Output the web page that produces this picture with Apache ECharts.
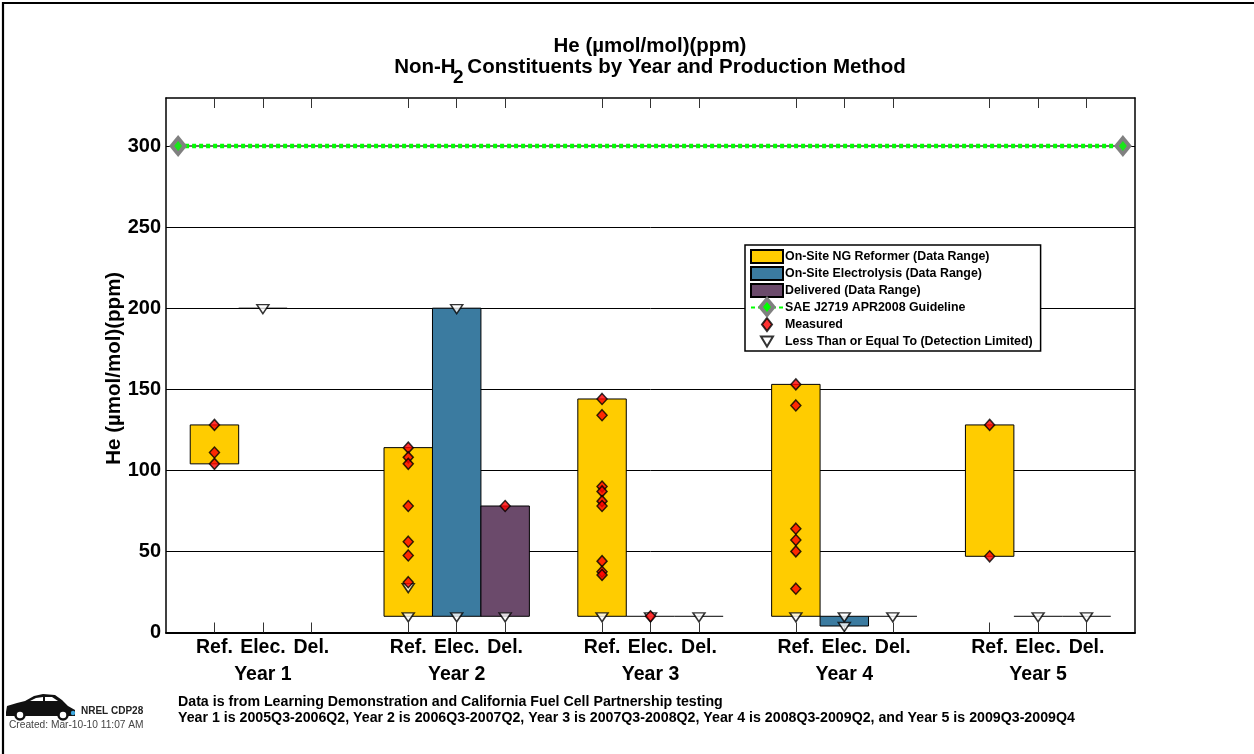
<!DOCTYPE html>
<html><head><meta charset="utf-8">
<style>html,body{margin:0;padding:0;background:#fff}#c{width:1254px;height:754px}</style>
<script src="https://cdn.jsdelivr.net/npm/echarts@6/dist/echarts.min.js"></script>
</head><body><div id="c"></div>
<script>
const FONT = '"Liberation Sans", Arial, sans-serif';
const chartTitle = 'He (µmol/mol)(ppm)';
const yTitle = 'He (µmol/mol)(ppm)';
const yMax = 329.6;
const tickPositions = [1,2,3,5,6,7,9,10,11,13,14,15,17,18,19];
const methodNames = ['Ref.','Elec.','Del.'];
const yearNames = ['Year 1','Year 2','Year 3','Year 4','Year 5'];

// [x position, low, high]
const reformerRanges = [[1,104,128],[5,10,114],[9,10,144],[13,10,153],[17,47,128]];
const electrolysisRanges = [[2,200,200],[6,10,200],[10,10,10],[14,4,10],[18,10,10]];
const deliveredRanges = [[7,10,78],[11,10,10],[15,10,10],[19,10,10]];
const guideline = [[0.25,300],[19.75,300]];
const measured = [
  [1,128],[1,111],[1,104],
  [5,114],[5,108],[5,104],[5,78],[5,56],[5,47.5],[5,31],
  [7,78],
  [9,144],[9,134],[9,90],[9,87],[9,81],[9,78],[9,44],[9,37.5],[9,35.5],
  [10,10],
  [13,153],[13,140],[13,64],[13,57],[13,50],[13,27],
  [17,128],[17,47]
];
const detectionLimited = [
  [2,200],
  [5,28],[5,10],[6,200],[6,10],[7,10],
  [9,10],[10,10],[11,10],
  [13,10],[14,10],[14,4],[15,10],
  [18,10],[19,10]
];
const labelReformer = 'On-Site NG Reformer (Data Range)';
const labelElectrolysis = 'On-Site Electrolysis (Data Range)';
const labelDelivered = 'Delivered (Data Range)';
const labelGuideline = 'SAE J2719 APR2008 Guideline';
const labelMeasured = 'Measured';
const labelLimited = 'Less Than or Equal To (Detection Limited)';
const footnote1 = 'Data is from Learning Demonstration and California Fuel Cell Partnership testing';
const footnote2 = 'Year 1 is 2005Q3-2006Q2, Year 2 is 2006Q3-2007Q2, Year 3 is 2007Q3-2008Q2, Year 4 is 2008Q3-2009Q2, and Year 5 is 2009Q3-2009Q4';

function rangeSeries(name, data, color) {
  return {
    name, type:'custom', data, z:2, clip:false,
    encode:{x:0,y:[1,2]},
    itemStyle:{color, borderColor:'#000', borderWidth:1},
    renderItem(params, api){
      const x = api.value(0), lo = api.value(1), hi = api.value(2);
      const a = api.coord([x-0.5, hi]), b = api.coord([x+0.5, lo]);
      if (lo === hi) {
        return {type:'line', shape:{x1:a[0],y1:a[1],x2:b[0],y2:a[1]}, style:{stroke:'#000',lineWidth:1}};
      }
      return {type:'rect', shape:{x:a[0],y:a[1],width:b[0]-a[0],height:b[1]-a[1]}, style:api.style()};
    }
  };
}
function xLabel(v){
  const m = methodNames[(v-1)%4];
  if ((v-1)%4===1) return m+'\n'+yearNames[(v-2)/4];
  return m;
}
const axisLineStyle = {color:'#000',width:1.5};
const option = {
  animation:false,
  backgroundColor:'#fff',
  title:{
    text:chartTitle+'\n{n|Non-H}{g| }{n| Constituents by Year and Production Method}',
    left:645, top:31, textAlign:'center',
    textStyle:{fontFamily:FONT,fontWeight:'bold',fontSize:20.5,color:'#000',lineHeight:21,
      rich:{n:{fontFamily:FONT,fontWeight:'bold',fontSize:20.5,color:'#000'},
            g:{fontSize:10,width:6}}}
  },
  grid:{left:166,right:119,top:98,bottom:121.5,containLabel:false},
  xAxis:[{
    type:'value',min:0,max:20,interval:1,position:'bottom',
    axisLine:{show:true,onZero:false,lineStyle:{color:'#000',width:2}},
    axisTick:{show:true,inside:true,length:10,lineStyle:{color:'#333',width:1},customValues:tickPositions},
    axisLabel:{show:true,customValues:tickPositions,formatter:xLabel,margin:2,verticalAlign:'top',
      fontFamily:FONT,fontWeight:'bold',fontSize:19.5,color:'#000',lineHeight:27,hideOverlap:false},
    splitLine:{show:false}
  },{
    type:'value',min:0,max:20,interval:1,position:'top',
    axisLine:{show:true,onZero:false,lineStyle:axisLineStyle},
    axisTick:{show:true,inside:true,length:10,lineStyle:{color:'#333',width:1},customValues:tickPositions},
    axisLabel:{show:false},splitLine:{show:false}
  }],
  yAxis:[{
    type:'value',min:0,max:yMax,interval:50,position:'left',
    name:yTitle,nameLocation:'middle',nameGap:41,nameMoveOverlap:false,
    nameTextStyle:{fontFamily:FONT,fontWeight:'bold',fontSize:20.5,color:'#000',padding:[0,6,0,0]},
    axisLine:{show:true,onZero:false,lineStyle:axisLineStyle},
    axisTick:{show:false},
    axisLabel:{showMaxLabel:false,margin:5,padding:[5,0,0,0],fontFamily:FONT,fontWeight:'bold',fontSize:20,color:'#000'},
    splitLine:{show:true,showMaxLine:false,showMinLine:false,lineStyle:{color:'#000',width:1,type:'solid'}}
  },{
    type:'value',min:0,max:yMax,interval:50,position:'right',
    axisLine:{show:true,onZero:false,lineStyle:axisLineStyle},
    axisTick:{show:false},axisLabel:{show:false},splitLine:{show:false}
  }],
  legend:{
    orient:'vertical',left:745,top:245,padding:[4,8,2,5],itemGap:2,itemWidth:32,itemHeight:13,
    backgroundColor:'#fff',borderColor:'#000',borderWidth:1.5,borderRadius:0,
    textStyle:{fontFamily:FONT,fontWeight:'bold',fontSize:12.4,color:'#000',lineHeight:15,padding:[0,0,0,-3]},
    z:10,selectedMode:false,
    data:[
      {name:labelReformer,icon:'rect'},
      {name:labelElectrolysis,icon:'rect'},
      {name:labelDelivered,icon:'rect'},
      {name:labelGuideline},
      {name:labelMeasured,icon:'path://M5 0 L10 6.5 L5 13 L0 6.5 Z'},
      {name:labelLimited,symbolRotate:0,icon:'path://M6 -1.5 L6 -1.5 Z M0 0 L12 0 L6 10 Z M6 11.5 L6 11.5 Z'}
    ]
  },
  series:[
    rangeSeries(labelReformer,reformerRanges,'#FFCC00'),
    rangeSeries(labelElectrolysis,electrolysisRanges,'#3B7BA0'),
    rangeSeries(labelDelivered,deliveredRanges,'#6B4A6B'),
    {name:labelGuideline+' base',type:'line',data:guideline,z:3,symbol:'none',lineStyle:{color:'#707070',width:2}},
    {name:labelGuideline,type:'line',data:guideline,z:4,symbol:'diamond',symbolSize:[18,22],
      itemStyle:{color:'#808080'},lineStyle:{color:'#00FF00',width:4.5,type:[4,3]}},
    {name:labelGuideline+' core',type:'scatter',data:guideline,z:5,symbol:'diamond',symbolSize:[8,10],itemStyle:{color:'#00FF00'}},
    {name:labelLimited,type:'scatter',data:detectionLimited,z:6,symbol:'triangle',symbolRotate:180,symbolSize:[12,9],symbolOffset:[0,1],
      itemStyle:{color:'#fff',borderColor:'#000',borderWidth:1.5}},
    {name:labelMeasured,type:'scatter',data:measured,z:7,symbol:'diamond',symbolSize:[10,11],
      itemStyle:{color:'#FF0000',borderColor:'#000',borderWidth:1.5}}
  ],
  graphic:[
    {type:'polyline',silent:true,z:20,shape:{points:[[3,754],[3,3],[1254,3]]},style:{stroke:'#000',lineWidth:2.2,fill:null}},
    // H2 subscript in the title
    {type:'text',silent:true,z:20,x:453,y:78,style:{text:'2',font:'bold 19px '+FONT,fill:'#000',textVerticalAlign:'middle'}},
    // legend guideline marker
    {type:'polygon',silent:true,z:20,shape:{points:[[767,296],[776,307],[767,318],[758,307]]},style:{fill:'#808080'}},
    {type:'polygon',silent:true,z:21,shape:{points:[[767,302],[771,307],[767,312],[763,307]]},style:{fill:'#00FF00'}},
    // car logo
    {type:'polygon',silent:true,z:20,shape:{points:[[6,712],[7,706],[17,703],[25,701],[34,696],[43,694],[55,695],[62,700],[68,706],[75,710],[75,716],[6,716]]},style:{fill:'#111'}},
    {type:'polygon',silent:true,z:21,shape:{points:[[30,701],[36,698],[43,697],[43,701]]},style:{fill:'#fff'}},
    {type:'polygon',silent:true,z:21,shape:{points:[[45,697],[52,697],[58,701],[45,701]]},style:{fill:'#fff'}},
    {type:'circle',silent:true,z:21,shape:{cx:20,cy:715,r:4.5},style:{fill:'#fff',stroke:'#111',lineWidth:2.5}},
    {type:'circle',silent:true,z:21,shape:{cx:63,cy:715,r:4.5},style:{fill:'#fff',stroke:'#111',lineWidth:2.5}},
    {type:'circle',silent:true,z:22,shape:{cx:73,cy:713,r:2.2},style:{fill:'#3FA9E0'}},
    {type:'text',silent:true,z:20,x:81,y:711,style:{text:'NREL CDP28',font:'bold 10px '+FONT,fill:'#222',textVerticalAlign:'middle'}},
    {type:'text',silent:true,z:20,x:9,y:725,style:{text:'Created: Mar-10-10 11:07 AM',font:'10.2px '+FONT,fill:'#444',textVerticalAlign:'middle'}},
    {type:'text',silent:true,z:20,x:178,y:702,style:{text:footnote1,font:'bold 14.2px '+FONT,fill:'#000',textVerticalAlign:'middle'}},
    {type:'text',silent:true,z:20,x:178,y:718,style:{text:footnote2,font:'bold 14.2px '+FONT,fill:'#000',textVerticalAlign:'middle'}}
  ]
};
const chart = echarts.init(document.getElementById('c'),null,{renderer:'canvas'});
chart.setOption(option);
</script>
</body></html>
